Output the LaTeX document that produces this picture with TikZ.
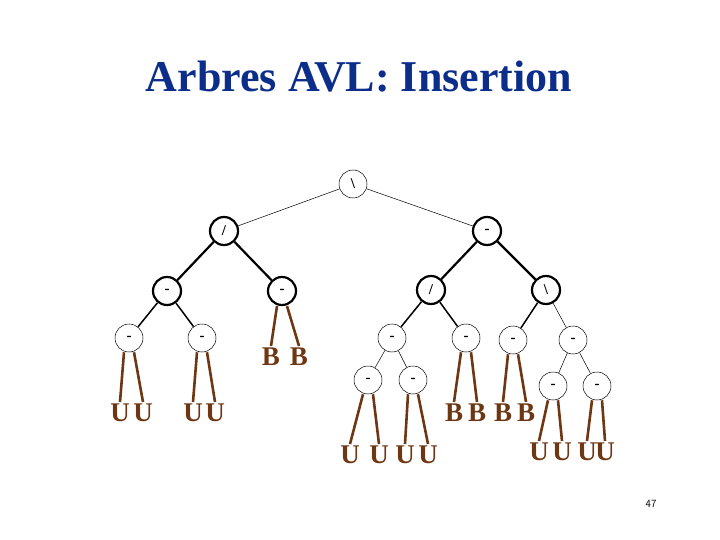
\documentclass[tikz,border=0pt]{standalone}
\usepackage{fontspec}
\setmainfont{Liberation Serif}
\begin{document}
\begin{tikzpicture}[x=1pt,y=-1pt,
  nd/.style={circle,draw,minimum size=28pt,inner sep=0pt,font=\bfseries\fontsize{15}{15}\selectfont},
  thk/.style={line width=2.2pt},
  thn/.style={line width=0.5pt},
  mid/.style={line width=1.5pt},
  lf/.style={inner sep=0pt,anchor=north,text=leaf,font=\bfseries\fontsize{27}{27}\selectfont},
  ll/.style={draw=leaf,line width=2.6pt}]
\definecolor{leaf}{RGB}{110,55,20}
\definecolor{ttl}{RGB}{12,46,138}
\useasboundingbox (0,0) rectangle (720,540);
\node[font=\bfseries\fontsize{44}{44}\selectfont,text=ttl] (title) at (359,77) {Arbres AVL: Insertion};
\node[font=\sffamily\fontsize{11}{11}\selectfont] (pg) at (651,504) {47};
% nodes
\node[nd,thn] (r) at (353,184) {\textbackslash};
\node[nd,thk] (a) at (224,231) {/};
\node[nd,thk] (b) at (487,231) {-};
\node[nd,thk] (a1) at (167,291) {-};
\node[nd,thk] (a2) at (282,291) {-};
\node[nd,thk] (b1) at (431,290) {/};
\node[nd,thk] (b2) at (546,290) {\textbackslash};
\node[nd,thn] (c1) at (129,338) {-};
\node[nd,thn] (c2) at (202,338) {-};
\node[nd,thn] (c3) at (392,338) {-};
\node[nd,thn] (c4) at (466,338) {-};
\node[nd,thn] (c5) at (513,340) {-};
\node[nd,thn] (c6) at (573,340) {-};
\node[nd,thn] (d1) at (368,380) {-};
\node[nd,thn] (d2) at (413,380) {-};
\node[nd,thn] (d3) at (553,386) {-};
\node[nd,thn] (d4) at (597,386) {-};
% edges
\draw[thn] (r)--(a); \draw[thn] (r)--(b);
\draw[thk] (a)--(a1); \draw[thk] (a)--(a2);
\draw[thk] (b)--(b1); \draw[thk] (b)--(b2);
\draw[mid] (a1)--(c1); \draw[mid] (a1)--(c2);
\draw[mid] (b1)--(c3); \draw[mid] (b1)--(c4);
\draw[mid] (b2)--(c5); \draw[thn] (b2)--(c6);
\draw[thn] (c3)--(d1); \draw[thn] (c3)--(d2);
\draw[thn] (c6)--(d3); \draw[thn] (c6)--(d4);
% leaves
\newcommand{\leafpair}[6]{%
  \node[lf] (#1l) at (#3,#5) {#6};
  \node[lf] (#1r) at (#4,#5) {#6};
  \draw[ll] ([xshift=-5pt]#2.south) -- ([yshift=2pt]#1l.north);
  \draw[ll] ([xshift=5pt]#2.south) -- ([yshift=2pt]#1r.north);}
\leafpair{u1}{c1}{120}{143}{404}{U}
\leafpair{u2}{c2}{193}{215}{404}{U}
\leafpair{bb}{a2}{271}{299}{348}{B}
\leafpair{u3}{d1}{350}{379}{446}{U}
\leafpair{u4}{d2}{405}{428}{446}{U}
\leafpair{b3}{c4}{454}{477}{404}{B}
\leafpair{b4}{c5}{503}{526}{404}{B}
\leafpair{u5}{d3}{539}{562}{443}{U}
\leafpair{u6}{d4}{587}{605}{443}{U}
\end{tikzpicture}
\end{document}
